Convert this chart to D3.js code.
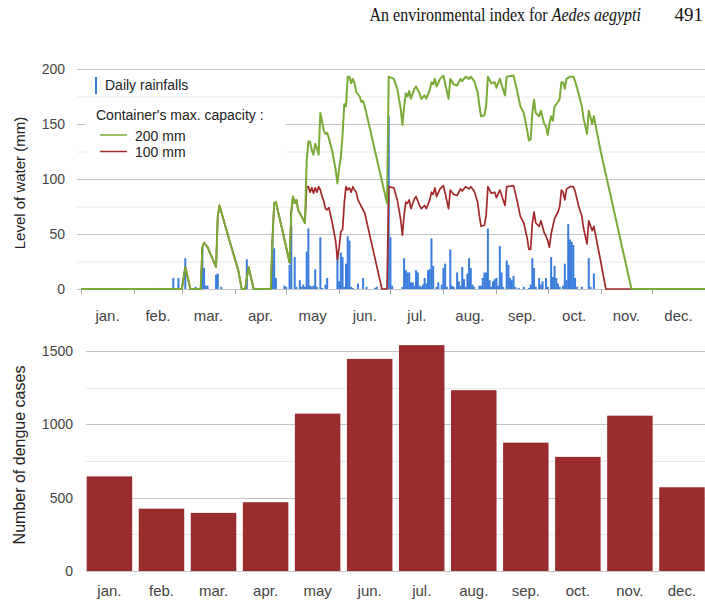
<!DOCTYPE html>
<html>
<head>
<meta charset="utf-8">
<script src="https://cdn.jsdelivr.net/npm/d3@7"></script>
<style>
  body { margin: 0; background: #fff; }
  svg { display: block; }
  text { font-family: Arial, "Liberation Sans", sans-serif; }
</style>
</head>
<body>
<svg id="chart" width="705" height="603"></svg>
<script>
// ---- data ----------------------------------------------------------------
const months = ["jan.", "feb.", "mar.", "apr.", "may", "jun.", "jul.", "aug.", "sep.", "oct.", "nov.", "dec."];
// first day (0-based day of year) of each month, plus year end
const monthStartDay = [0, 31, 59, 90, 120, 151, 181, 212, 243, 273, 304, 334, 365];

const levelTicks = [0, 50, 100, 150, 200];
const levelMinorTicks = [25, 75, 125, 175];
const caseTicks = [0, 500, 1000, 1500];
const caseMinorTicks = [250, 750, 1250];

// monthly dengue cases
const dengueCases = [645, 425, 396, 469, 1073, 1446, 1540, 1233, 875, 778, 1059, 571];

// daily rainfall: [day of year, mm]
const dailyRainfall = [
  [44, 1], [54, 10], [57, 10], [61, 28], [67, 2], [71, 37], [72, 19], [73, 3], [74, 3],
  [79, 13], [80, 14], [82, 2], [97, 27], [112, 45], [113, 37], [114, 10], [119, 3], [120, 2],
  [122, 22], [123, 57], [125, 29], [126, 2], [128, 8], [129, 2], [130, 4], [131, 2], [132, 34],
  [133, 55], [134, 3], [135, 2], [136, 3], [137, 18], [138, 2], [140, 47], [141, 1], [143, 4],
  [144, 10], [150, 34], [151, 7], [152, 33], [153, 29], [154, 2], [155, 23], [156, 48], [157, 44],
  [158, 2], [159, 1], [162, 5], [165, 10], [167, 2], [172, 1], [173, 2], [176, 1], [180, 157],
  [181, 47], [182, 3], [188, 2], [189, 28], [190, 17], [191, 15], [192, 15], [193, 6], [194, 6],
  [195, 3], [196, 17], [197, 15], [198, 3], [199, 2], [200, 4], [201, 10], [202, 5], [203, 17],
  [204, 18], [205, 46], [206, 21], [208, 2], [209, 6], [211, 4], [212, 19], [213, 23], [214, 2],
  [216, 36], [217, 3], [218, 2], [220, 15], [221, 7], [222, 3], [223, 20], [224, 9], [225, 2],
  [226, 14], [227, 28], [228, 19], [229, 4], [230, 2], [233, 3], [234, 3], [235, 10], [236, 15],
  [237, 15], [238, 55], [239, 8], [240, 2], [241, 7], [242, 9], [243, 10], [244, 3], [245, 39],
  [246, 15], [247, 2], [249, 26], [250, 22], [251, 10], [252, 8], [253, 12], [254, 2], [256, 1],
  [259, 2], [262, 1], [263, 4], [264, 28], [265, 19], [266, 2], [268, 10], [269, 4], [270, 7],
  [272, 10], [273, 2], [275, 29], [276, 11], [277, 21], [278, 10], [279, 5], [280, 2], [282, 3],
  [283, 23], [284, 8], [285, 59], [286, 45], [287, 43], [288, 40], [289, 10], [290, 2], [293, 2],
  [297, 28], [298, 2], [300, 14]
];

// water level [day, mm] while both containers stay below 100 mm (identical curves)
const levelSharedPhase = [
  [0, 0], [59, 0], [61, 20], [64, 0], [70, 0], [71, 38], [72, 42], [74, 38], [79, 20], [80, 66],
  [81, 76], [85, 54], [88, 38], [92, 17], [94, 0], [96, 0], [98, 20], [101, 0], [111, 0],
  [112, 45], [113, 78], [114, 79], [118, 52], [122, 24], [123, 70], [124, 84], [125, 78],
  [126, 81], [127, 72], [128, 69], [130, 63], [131, 60]
];

// water level [day, mm] in the 200 mm container afterwards
const level200Rest = [
  [132, 117], [133, 134], [134, 134], [135, 126], [136, 122], [137, 132], [138, 128], [139, 122],
  [140, 160], [141, 152], [142, 144], [143, 141], [144, 142], [145, 137], [147, 125], [149, 108],
  [150, 96], [151, 110], [152, 120], [153, 140], [154, 168], [155, 166], [156, 193], [157, 193],
  [158, 187], [159, 191], [160, 187], [161, 179], [163, 175], [164, 170], [165, 171], [166, 166],
  [179, 78], [180, 193], [183, 191], [185, 182], [187, 164], [188, 149], [189, 166], [190, 178],
  [191, 175], [192, 180], [193, 173], [195, 182], [196, 184], [198, 178], [199, 173], [201, 176],
  [202, 173], [204, 181], [205, 188], [206, 186], [207, 191], [208, 184], [210, 191], [212, 194],
  [213, 187], [215, 173], [216, 191], [218, 186], [220, 185], [222, 191], [223, 189], [225, 193],
  [227, 191], [228, 193], [230, 189], [232, 179], [233, 167], [234, 157], [236, 158], [237, 167],
  [238, 193], [240, 187], [242, 188], [243, 183], [245, 191], [248, 176], [249, 193], [253, 194],
  [255, 181], [257, 166], [259, 160], [261, 144], [262, 135], [263, 136], [264, 160], [265, 172],
  [266, 160], [268, 157], [269, 162], [271, 150], [272, 148], [273, 140], [274, 150], [275, 157],
  [276, 153], [277, 166], [279, 170], [280, 173], [281, 188], [282, 188], [283, 182], [284, 191],
  [286, 193], [288, 193], [289, 189], [291, 178], [293, 166], [294, 155], [296, 141], [297, 162],
  [299, 150], [300, 157], [301, 149], [304, 125], [322, 0], [365, 0]
];

// water level [day, mm] in the 100 mm container afterwards
const level100Rest = [
  [132, 93], [133, 93], [134, 88], [135, 92], [136, 87], [137, 92], [138, 88], [139, 93],
  [140, 90], [141, 84], [142, 80], [143, 73], [144, 72], [145, 74], [147, 60], [149, 43],
  [150, 27], [151, 38], [152, 52], [153, 54], [154, 78], [155, 93], [156, 90], [157, 92],
  [158, 88], [159, 93], [160, 90], [161, 88], [162, 81], [163, 78], [165, 72], [166, 69],
  [176, 0], [179, 0], [180, 93], [183, 92], [185, 81], [187, 63], [188, 49], [189, 67], [190, 79],
  [191, 78], [192, 81], [193, 73], [195, 82], [196, 84], [198, 76], [199, 73], [201, 76],
  [202, 73], [204, 81], [205, 88], [206, 86], [207, 92], [208, 84], [210, 91], [212, 94],
  [213, 87], [215, 73], [216, 90], [218, 86], [220, 85], [222, 91], [223, 89], [225, 93],
  [227, 91], [228, 93], [230, 89], [232, 79], [233, 67], [234, 57], [236, 58], [237, 67],
  [238, 93], [240, 87], [242, 88], [243, 83], [245, 90], [248, 76], [249, 93], [253, 94],
  [255, 81], [257, 66], [259, 60], [261, 46], [262, 36], [263, 36], [264, 60], [265, 70],
  [266, 60], [268, 57], [269, 62], [271, 51], [272, 48], [273, 44], [274, 38], [275, 50],
  [276, 57], [277, 64], [279, 70], [280, 75], [281, 90], [282, 88], [283, 81], [284, 91],
  [286, 93], [288, 93], [289, 89], [291, 76], [293, 66], [294, 55], [296, 41], [297, 62],
  [299, 53], [300, 57], [301, 49], [304, 25], [307, 0], [365, 0]
];

const level200 = levelSharedPhase.concat(level200Rest);
const level100 = levelSharedPhase.concat(level100Rest);

// ---- drawing ---------------------------------------------------------------
const svg = d3.select("#chart");
const COLORS = {
  rain: "#3b7ddd", green: "#7aab37", red: "#a3282a", bar: "#9b2c2e",
  gridMajor: "#c4c4c4", gridMinor: "#e8e8e8", text: "#222", tick: "#444"
};

// running header (slightly condensed serif)
const header = svg.append("text")
  .attr("transform", "translate(641,21) scale(0.89,1)")
  .attr("text-anchor", "end")
  .style("font-family", "'Liberation Serif', 'Times New Roman', serif")
  .style("font-size", "18px").attr("fill", "#111");
header.append("tspan").text("An environmental index for ");
header.append("tspan").style("font-style", "italic").text("Aedes aegypti");
svg.append("text")
  .attr("x", 703).attr("y", 21).attr("text-anchor", "end")
  .style("font-family", "'Liberation Serif', 'Times New Roman', serif")
  .style("font-size", "19px").attr("fill", "#111").text("491");

// ===== upper panel: water level and rainfall =====
const x = d3.scaleLinear().domain([0, 365]).range([81, 705]);
const y = d3.scaleLinear().domain([0, 200]).range([289, 69]);
const gridLeft = 77, gridRight = 705;

const upper = svg.append("g");
upper.selectAll("line.minor").data(levelMinorTicks).join("line")
  .attr("x1", gridLeft).attr("x2", gridRight)
  .attr("y1", d => y(d) + 0.5).attr("y2", d => y(d) + 0.5)
  .attr("stroke", COLORS.gridMinor);
upper.selectAll("line.major").data(levelTicks).join("line")
  .attr("x1", gridLeft).attr("x2", gridRight)
  .attr("y1", d => y(d) + 0.5).attr("y2", d => y(d) + 0.5)
  .attr("stroke", COLORS.gridMajor);

upper.selectAll("text.ytick").data(levelTicks).join("text")
  .attr("x", 65).attr("y", d => y(d)).attr("dy", "0.35em")
  .attr("text-anchor", "end").style("font-size", "14px").attr("fill", COLORS.tick)
  .text(d => d);

// month boundary ticks
upper.selectAll("line.mtick").data(monthStartDay.slice(0, 12)).join("line")
  .attr("x1", d => Math.round(x(d)) + 0.5).attr("x2", d => Math.round(x(d)) + 0.5)
  .attr("y1", y(0)).attr("y2", y(0) + 5)
  .attr("stroke", "#aaa");

upper.selectAll("text.month").data(months).join("text")
  .attr("x", (d, i) => x((monthStartDay[i] + monthStartDay[i + 1]) / 2))
  .attr("y", 321).attr("text-anchor", "middle")
  .style("font-size", "15px").attr("fill", COLORS.tick)
  .text(d => d);

// rainfall bars
upper.selectAll("rect.rain").data(dailyRainfall).join("rect")
  .attr("x", d => x(d[0]) - 1).attr("width", 2)
  .attr("y", d => y(d[1])).attr("height", d => y(0) - y(d[1]))
  .attr("fill", COLORS.rain);

const line = d3.line().x(d => x(d[0])).y(d => y(d[1]));
upper.append("path").datum(level100).attr("d", line)
  .attr("fill", "none").attr("stroke", COLORS.red).attr("stroke-width", 1.7)
  .attr("stroke-linejoin", "round");
upper.append("path").datum(level200).attr("d", line)
  .attr("fill", "none").attr("stroke", COLORS.green).attr("stroke-width", 2)
  .attr("stroke-linejoin", "round");

// legend
const legend = upper.append("g");
legend.append("rect").attr("x", 86).attr("y", 101).attr("width", 200).attr("height", 65).attr("fill", "#fff");
legend.append("rect").attr("x", 95).attr("y", 77).attr("width", 2).attr("height", 17).attr("fill", COLORS.rain);
legend.append("text").attr("x", 105).attr("y", 90).style("font-size", "14px").attr("fill", COLORS.text).text("Daily rainfalls");
legend.append("text").attr("x", 96).attr("y", 120).style("font-size", "14px").attr("fill", COLORS.text).text("Container's max. capacity :");
const legendItems = [
  { label: "200 mm", color: COLORS.green, y: 135 },
  { label: "100 mm", color: COLORS.red, y: 151.5 }
];
legendItems.forEach(item => {
  legend.append("line").attr("x1", 100).attr("x2", 127).attr("y1", item.y).attr("y2", item.y)
    .attr("stroke", item.color).attr("stroke-width", 1.5);
  legend.append("text").attr("x", 135).attr("y", item.y + 5.5).style("font-size", "14px")
    .attr("fill", COLORS.text).text(item.label);
});

svg.append("text")
  .attr("transform", "translate(25,183) rotate(-90)")
  .attr("text-anchor", "middle").style("font-size", "15px").attr("fill", COLORS.text)
  .text("Level of water (mm)");

// ===== lower panel: monthly dengue cases =====
const xb = d3.scaleBand().domain(months).range([86.7, 704.7]).paddingInner(0.126).paddingOuter(0);
const yb = d3.scaleLinear().domain([0, 1500]).range([571, 351]);
const lower = svg.append("g");

lower.selectAll("line.minor").data(caseMinorTicks).join("line")
  .attr("x1", 86).attr("x2", gridRight)
  .attr("y1", d => Math.round(yb(d)) + 0.5).attr("y2", d => Math.round(yb(d)) + 0.5)
  .attr("stroke", COLORS.gridMinor);
lower.selectAll("line.major").data(caseTicks).join("line")
  .attr("x1", 86).attr("x2", gridRight)
  .attr("y1", d => Math.round(yb(d)) + 0.5).attr("y2", d => Math.round(yb(d)) + 0.5)
  .attr("stroke", COLORS.gridMajor);

lower.selectAll("text.ytick").data(caseTicks).join("text")
  .attr("x", 73).attr("y", d => yb(d)).attr("dy", "0.35em")
  .attr("text-anchor", "end").style("font-size", "14px").attr("fill", COLORS.tick)
  .text(d => d);

lower.selectAll("rect.case").data(dengueCases).join("rect")
  .attr("x", (d, i) => xb(months[i])).attr("width", xb.bandwidth())
  .attr("y", d => yb(d)).attr("height", d => yb(0) - yb(d))
  .attr("fill", COLORS.bar);

lower.selectAll("text.month").data(months).join("text")
  .attr("x", d => xb(d) + xb.bandwidth() / 2).attr("y", 596)
  .attr("text-anchor", "middle").style("font-size", "15px").attr("fill", COLORS.tick)
  .text(d => d);

svg.append("text")
  .attr("transform", "translate(25,455) rotate(-90)")
  .attr("text-anchor", "middle").style("font-size", "16px").attr("fill", COLORS.text)
  .text("Number of dengue cases");
</script>
</body>
</html>
